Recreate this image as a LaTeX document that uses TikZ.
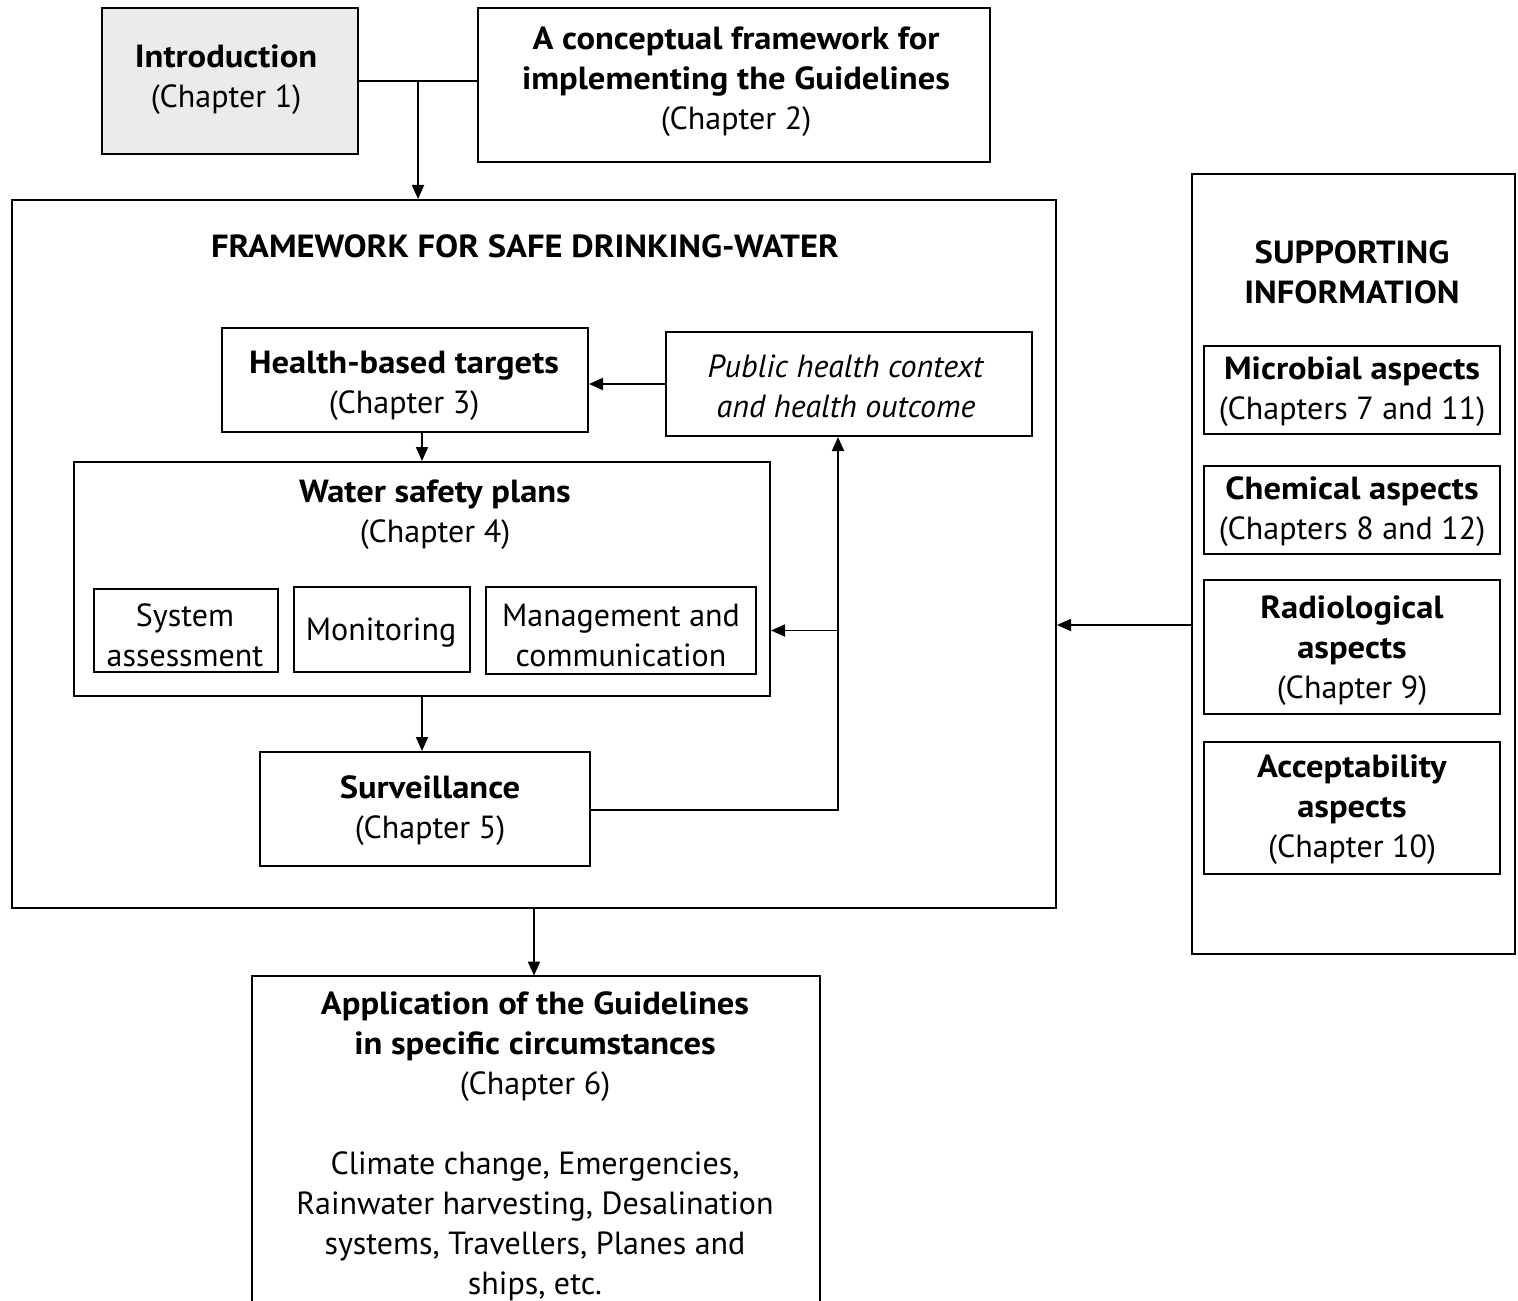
\documentclass[tikz,border=0pt]{standalone}
\usepackage{fontspec}
\setmainfont{PT Sans}[BoldFeatures={FakeStretch=1.08}]
\usetikzlibrary{arrows.meta}
\definecolor{introgray}{HTML}{EBEBEB}
\begin{document}
\begin{tikzpicture}[x=0.5pt,y=-0.5pt,
  box/.style={draw, line width=1pt, inner sep=0pt},
  txt/.style={inner sep=0pt, align=center, yshift=-2pt, font=\fontsize{16}{20}\selectfont},
  arr/.style={-{Triangle[length=7pt,width=6pt]}, line width=0.9pt},
  ln/.style={line width=0.9pt}]
\useasboundingbox (0,0) rectangle (1518,1300);
% boxes
\node[box, fill=introgray, minimum width=128pt, minimum height=73pt] (intro) at (230,81) {};
\node[box, minimum width=256pt, minimum height=77pt] (ch2) at (734,85) {};
\node[box, minimum width=522pt, minimum height=354pt] (fw) at (534,554) {};
\node[box, minimum width=183pt, minimum height=52pt] (hbt) at (405,380) {};
\node[box, minimum width=183pt, minimum height=52pt] (ph) at (849,384) {};
\node[box, minimum width=348pt, minimum height=117pt] (wsp) at (422,579) {};
\node[box, minimum width=92pt, minimum height=41.5pt] (sa) at (186,630.5) {};
\node[box, minimum width=88pt, minimum height=42.5pt] (mon) at (382,629.5) {};
\node[box, minimum width=135pt, minimum height=43.5pt] (mc) at (621,630.5) {};
\node[box, minimum width=165pt, minimum height=57pt] (surv) at (425,809) {};
\node[inner sep=0pt, minimum width=284pt, minimum height=164pt] (app) at (536,1140) {};
\draw[line width=1pt] (app.south west) -- (app.north west) -- (app.north east) -- (app.south east);
\node[box, minimum width=161.5pt, minimum height=390pt] (si) at (1353.5,564) {};
\node[box, minimum width=148pt, minimum height=44pt] (mic) at (1352,390) {};
\node[box, minimum width=148pt, minimum height=44pt] (chem) at (1352,510) {};
\node[box, minimum width=148pt, minimum height=67pt] (rad) at (1352,647) {};
\node[box, minimum width=148pt, minimum height=66pt] (acc) at (1352,808) {};
% texts
\node[txt] (tintro) at (226,76) {\textbf{Introduction}\\(Chapter 1)};
\node[txt] (tch2) at (736,78) {\textbf{A conceptual framework for}\\\textbf{implementing the Guidelines}\\(Chapter 2)};
\node[txt] (tfw) at (525,242) {\textbf{FRAMEWORK FOR SAFE DRINKING-WATER}};
\node[txt] (thbt) at (404,382) {\textbf{Health-based targets}\\(Chapter 3)};
\node[txt] (tph) at (846,382) {\textit{Public health context}\\\textit{and health outcome}};
\node[txt] (twsp) at (435,511) {\textbf{Water safety plans}\\(Chapter 4)};
\node[txt] (tsa) at (185,631) {System\\assessment};
\node[txt] (tmon) at (381,629) {Monitoring};
\node[txt] (tmc) at (621,631) {Management and\\communication};
\node[txt] (tsurv) at (430,807) {\textbf{Surveillance}\\(Chapter 5)};
\node[txt] (tapp) at (535,1142) {\textbf{Application of the Guidelines}\\\textbf{in specific circumstances}\\(Chapter 6)\\[20pt]Climate change, Emergencies,\\Rainwater harvesting, Desalination\\systems, Travellers, Planes and\\ships, etc.};
\node[txt] (tsi) at (1352,268) {\textbf{SUPPORTING}\\\textbf{INFORMATION}};
\node[txt] (tmic) at (1352,388) {\textbf{Microbial aspects}\\(Chapters 7 and 11)};
\node[txt] (tchem) at (1352,508) {\textbf{Chemical aspects}\\(Chapters 8 and 12)};
\node[txt] (trad) at (1352,647) {\textbf{Radiological}\\\textbf{aspects}\\(Chapter 9)};
\node[txt] (tacc) at (1352,806) {\textbf{Acceptability}\\\textbf{aspects}\\(Chapter 10)};
% connectors
\coordinate (j) at (418,81);
\coordinate (fb) at (838,810);
\coordinate (sy) at (0,625);
\draw[ln] (intro.east) -- (intro.east -| ch2.west);
\draw[arr] (j) -- (j |- fw.north);
\draw[arr] (ph.west) -- (ph.west -| hbt.east);
\draw[arr] (hbt.south -| wsp.north) -- (wsp.north);
\draw[arr] (wsp.south) -- (wsp.south |- surv.north);
\draw[arr] (surv.east |- fb) -- (fb) -- (fb |- ph.south);
\draw[arr] (fb |- mc.east) -- (mc.east -| wsp.east);
\draw[arr] (fw.south) -- (fw.south |- app.north);
\draw[arr] (si.west |- sy) -- (fw.east |- sy);
\end{tikzpicture}
\end{document}
